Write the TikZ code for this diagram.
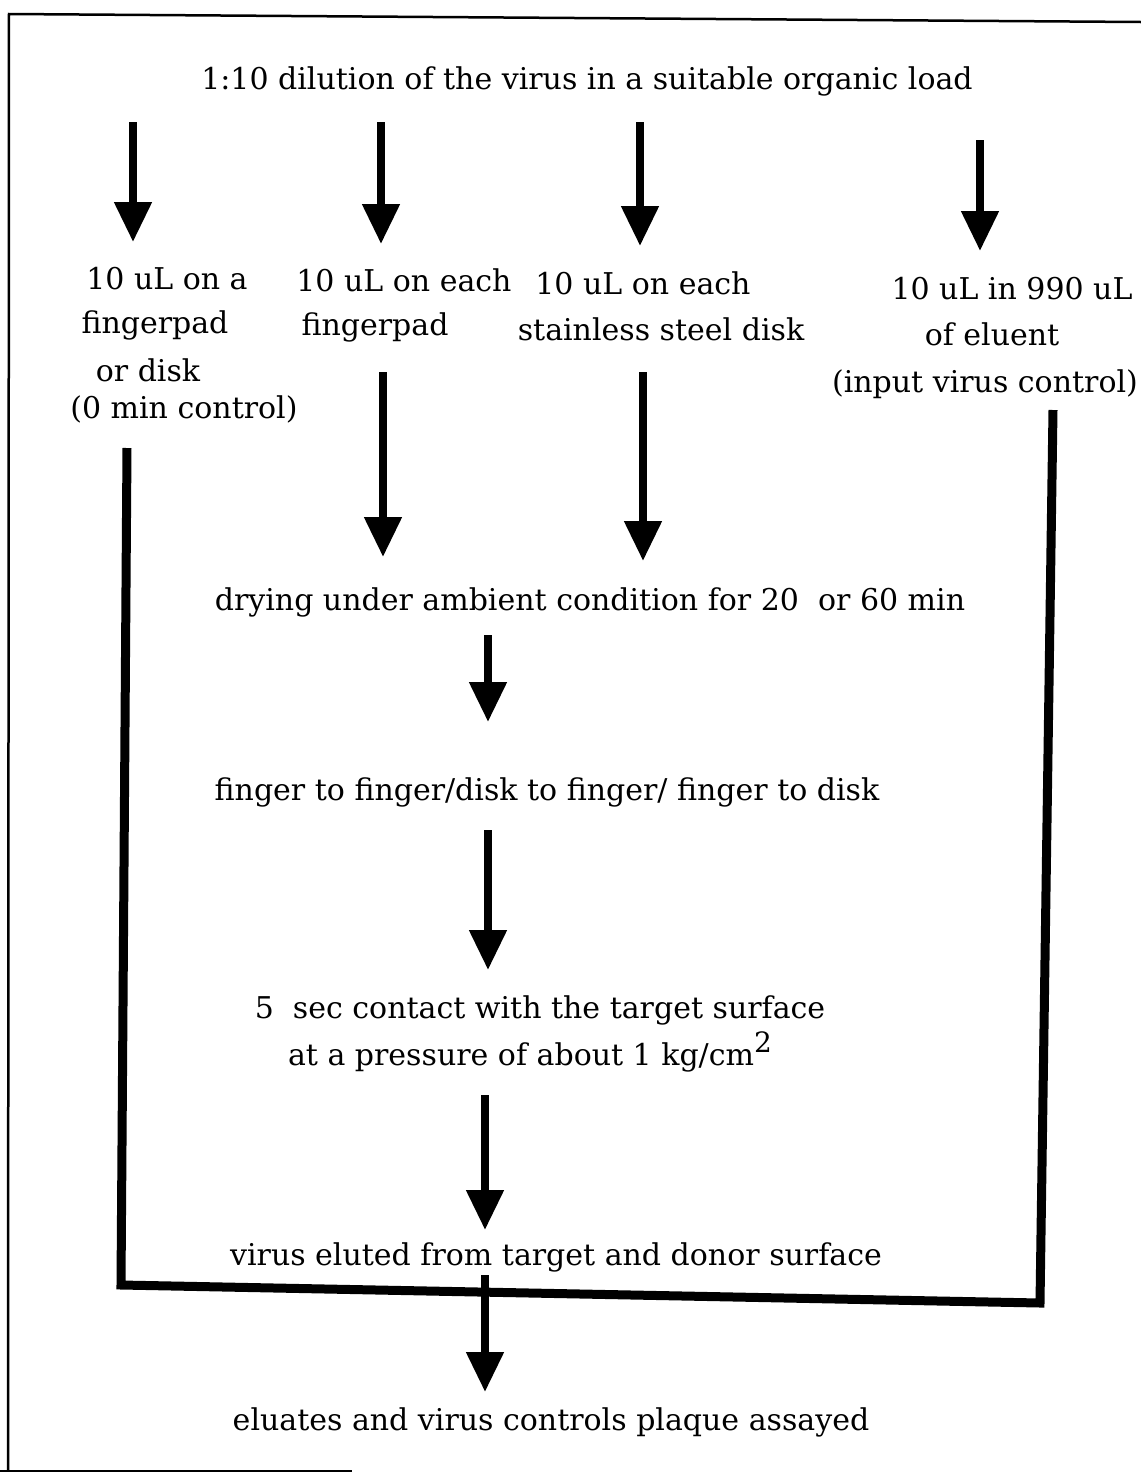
\documentclass[tikz,border=0pt]{standalone}
\usepackage{fontspec}
\setmainfont{DejaVu Serif}
\usetikzlibrary{arrows.meta}
\begin{document}
\begin{tikzpicture}[x=1pt,y=-1pt,
  lbl/.style={font=\fontsize{30}{36}\selectfont, inner sep=0pt, anchor=base},
  flow/.style={line width=8pt, -{Triangle[width=36pt,length=40pt]}},
  bar/.style={line width=9pt, line join=miter},
  frame/.style={line width=2.5pt}]
\useasboundingbox (0,0) rectangle (1141,1476);
% frame
\draw[frame] (1141,22) -- (9,14) -- (8,1471);
\draw[frame] (0,1471) -- (352,1471);
% texts
\node[lbl] (title) at (587,89) {1:10 dilution of the virus in a suitable organic load};
\node[lbl] (c1a) at (167,289) {10 uL on a};
\node[lbl] (c1b) at (155,333) {fingerpad};
\node[lbl] (c1c) at (148,381) {or disk};
\node[lbl] (c1d) at (184,418) {(0 min control)};
\node[lbl] (c2a) at (404,291) {10 uL on each};
\node[lbl] (c2b) at (375,335) {fingerpad};
\node[lbl] (c3a) at (643,294) {10 uL on each};
\node[lbl] (c3b) at (661,340) {stainless steel disk};
\node[lbl] (c4a) at (1012,299) {10 uL in 990 uL};
\node[lbl] (c4b) at (992,345) {of eluent};
\node[lbl] (c4c) at (985,392) {(input virus control)};
\node[lbl] (dry) at (590,610) {drying under ambient condition for 20\ \ or 60 min};
\node[lbl] (fing) at (547,800) {finger to finger/disk to finger/ finger to disk};
\node[lbl] (c5a) at (540,1018) {5\ \ sec contact with the target surface};
\node[lbl] (c5b) at (530,1065) {at a pressure of about 1 kg/cm\raisebox{0.42em}{\fontsize{28}{32}\selectfont 2}};
\node[lbl] (elu) at (556,1265) {virus eluted from target and donor surface};
\node[lbl] (fin) at (551,1430) {eluates and virus controls plaque assayed};
% connector end points
\coordinate (a1s) at (133,122); \coordinate (a1e) at (133,242);
\coordinate (a2s) at (381,122); \coordinate (a2e) at (381,244);
\coordinate (a3s) at (640,122); \coordinate (a3e) at (640,246);
\coordinate (a4s) at (980,140); \coordinate (a4e) at (980,251);
\coordinate (a5s) at (383,372); \coordinate (a5e) at (383,557);
\coordinate (a6s) at (643,372); \coordinate (a6e) at (643,561);
\coordinate (a7s) at (488,635); \coordinate (a7e) at (488,722);
\coordinate (a8s) at (488,830); \coordinate (a8e) at (488,970);
\coordinate (a9s) at (485,1095); \coordinate (a9e) at (485,1230);
\coordinate (a10s) at (485,1275); \coordinate (a10e) at (485,1392);
\coordinate (bl1) at (127,448); \coordinate (bl2) at (121,1285);
\coordinate (br2) at (1040,1303); \coordinate (br1) at (1053,410);
% arrows
\draw[flow] (a1s) -- (a1e);
\draw[flow] (a2s) -- (a2e);
\draw[flow] (a3s) -- (a3e);
\draw[flow] (a4s) -- (a4e);
\draw[flow] (a5s) -- (a5e);
\draw[flow] (a6s) -- (a6e);
\draw[flow] (a7s) -- (a7e);
\draw[flow] (a8s) -- (a8e);
\draw[flow] (a9s) -- (a9e);
\draw[flow] (a10s) -- (a10e);
% bracket joining controls
\draw[bar] (bl1) -- (bl2) -- (br2) -- (br1);
\end{tikzpicture}
\end{document}
